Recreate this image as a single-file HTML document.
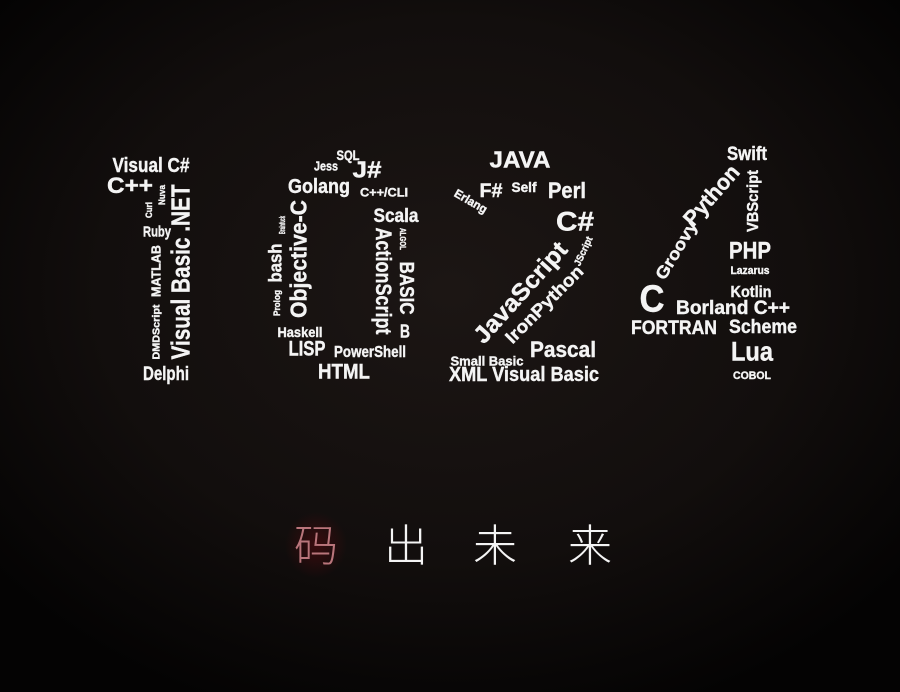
<!DOCTYPE html>
<html><head><meta charset="utf-8"><style>
html,body{margin:0;padding:0;width:900px;height:692px;overflow:hidden;background:#070505}
svg{display:block}
</style></head><body>
<svg width="900" height="692" viewBox="0 0 900 692" xmlns="http://www.w3.org/2000/svg">
<defs>
<radialGradient id="bg" cx="0.5" cy="0.42" r="0.65">
<stop offset="0" stop-color="#1c1614"/><stop offset="0.6" stop-color="#120e0d"/><stop offset="1" stop-color="#040303"/>
</radialGradient>
<radialGradient id="glow" cx="0.5" cy="0.5" r="0.5">
<stop offset="0" stop-color="#3a0c0e"/><stop offset="1" stop-color="#3a0c0e" stop-opacity="0"/>
</radialGradient>
</defs>
<rect width="900" height="692" fill="url(#bg)"/>
<g fill="#f4f4f4" stroke="#f4f4f4" stroke-width="0.4" font-family="Liberation Sans, sans-serif" font-weight="bold" text-anchor="middle">
<g id="t"></g>
</g>
<rect x="285" y="512" width="62" height="66" fill="url(#glow)"/>
<g font-family="Noto Sans CJK SC, sans-serif" font-weight="300" font-size="44" text-anchor="middle">
<text x="316" y="561" fill="#b9757b">码</text>
<text x="406" y="561" fill="#f4f4f4">出</text>
<text x="495" y="561" fill="#f4f4f4">未</text>
<text x="590" y="561" fill="#f4f4f4">来</text>
</g>
</svg>
<script>
var L=[
["Visual C#",151,165,77,20,0],["C++",130,185,46,22,0],["Curl",149,210,16,9,-90],["Nuva",162,195,20,9,-90],
["Visual Basic .NET",180,272,175,26,-90],["Ruby",157,231,28,15,0],["MATLAB",156,271,52,13,-90],["DMDScript",156,332,55,10,-90],
["Delphi",166,373,46,19,0],["SQL",348,155,23,14,0],["Jess",326,166,24,13,0],["J#",367,169,29,23,0],["Golang",319,186,62,20,0],
["C++/CLI",384,192,48,12,0],["Scala",396,215,45,19,0],["Brainfuck",282,225,18,8,-90],["Objective-C",298,259,118,23,-90],
["bash",275,263,39,18,-90],["Prolog",277,303,26,9,-90],["ActionScript",384,281,107,22,90],["ALGOL",403,239,22,8,90],
["BASIC",407,288,53,20,90],["B",405,331,10,18,0],["Haskell",300,332,45,14,0],["LISP",307,348,37,21,0],["PowerShell",370,351,72,16,0],
["HTML",344,371,52,21,0],["JAVA",520,159,61,23,0],["F#",491,190,23,19,0],["Self",524,187,25,14,0],["Perl",567,190,38,22,0],
["Erlang",471,201,36,12,30],["C#",575,221,38,27,0],["JavaScript",520,292,127,24,-48],["IronPython",544,304,102,18,-45],
["JScript",583,251,31,10,-65],["Pascal",563,349,66,22,0],["Small Basic",487,361,73,13,0],["XML Visual Basic",524,374,150,20,0],
["Swift",747,153,40,19,0],["Python",711,195,73,22,-49],["Groovy",676,250,65,17,-59],["VBScript",752,201,62,16,-90],
["PHP",750,250,42,24,0],["Lazarus",750,270,39,11,0],["Kotlin",751,291,41,16,0],["C",652,298,25,38,0],["Borland C++",733,307,114,19,0],
["FORTRAN",674,327,86,19,0],["Scheme",763,326,68,19,0],["Lua",752,351,42,27,0],["COBOL",752,375,38,11,0]];
var g=document.getElementById("t"),ns="http://www.w3.org/2000/svg";
L.forEach(function(a){var t=document.createElementNS(ns,"text");t.textContent=a[0];
t.setAttribute("x",a[1]);t.setAttribute("y",a[2]+0.36*a[4]);t.setAttribute("font-size",a[4]);
t.setAttribute("textLength",a[3]);t.setAttribute("lengthAdjust","spacingAndGlyphs");
if(a[5])t.setAttribute("transform","rotate("+a[5]+" "+a[1]+" "+a[2]+")");g.appendChild(t);});
</script>
</body></html>
